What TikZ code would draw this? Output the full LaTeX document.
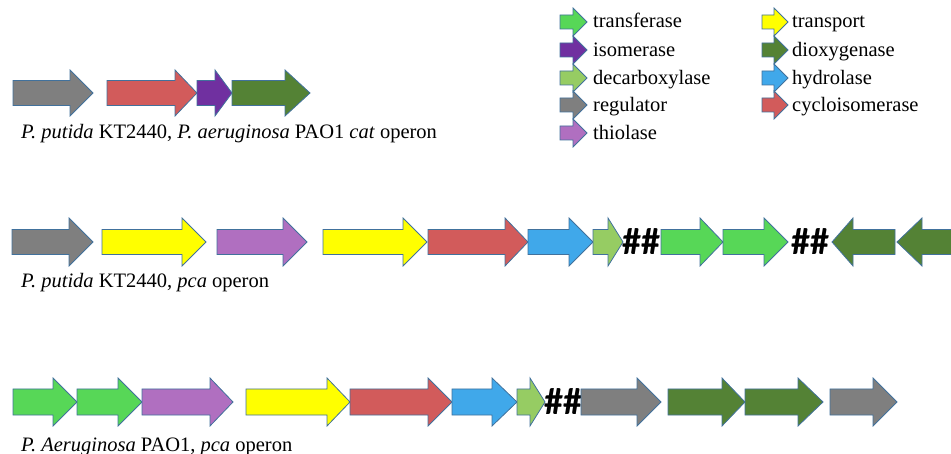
\documentclass[tikz,border=0pt]{standalone}
\usepackage{fontspec}
\setmainfont{Liberation Serif}
\newfontfamily\hashfont{Carlito}
\definecolor{cGray}{HTML}{7F7F7F}
\definecolor{cRed}{HTML}{D25B5B}
\definecolor{cIso}{HTML}{7030A0}
\definecolor{cDiox}{HTML}{548235}
\definecolor{cYel}{HTML}{FFFF00}
\definecolor{cThio}{HTML}{B06FC0}
\definecolor{cHyd}{HTML}{40A8EA}
\definecolor{cDec}{HTML}{96CC63}
\definecolor{cTra}{HTML}{57D757}
\definecolor{cEdge}{HTML}{41719C}
\tikzset{
  gene/.style={draw=cEdge, line width=0.8pt, line join=miter},
  lbl/.style={anchor=base west, inner sep=0pt, font=\fontsize{20.5}{24}\selectfont},
  hash/.style={inner sep=0pt, font=\hashfont\bfseries\fontsize{38}{38}\selectfont}
}
% #1 fill, #2 x left, #3 x tip, #4 y centre, #5 head length, #6 body half height, #7 head half height
\newcommand{\fwdgene}[7]{%
  \draw[gene, fill=#1] (#2,#4-#6) -- (#3-#5,#4-#6) -- (#3-#5,#4-#7) -- (#3,#4)
    -- (#3-#5,#4+#7) -- (#3-#5,#4+#6) -- (#2,#4+#6) -- cycle;}
% #1 fill, #2 x tip, #3 x right, #4 y centre, #5 head length, #6 body half, #7 head half
\newcommand{\revgene}[7]{%
  \draw[gene, fill=#1] (#3,#4-#6) -- (#2+#5,#4-#6) -- (#2+#5,#4-#7) -- (#2,#4)
    -- (#2+#5,#4+#7) -- (#2+#5,#4+#6) -- (#3,#4+#6) -- cycle;}
\begin{document}
\begin{tikzpicture}[x=1pt,y=-1pt]
\useasboundingbox (0,0) rectangle (951,454);
\clip (0,0) rectangle (951,454);
% ---- legend ----
\fwdgene{cTra}{560}{587}{22}{14}{7}{14}
\fwdgene{cIso}{560}{587}{50}{14}{7}{14}
\fwdgene{cDec}{560}{587}{78}{14}{7}{14}
\fwdgene{cGray}{560}{587}{105}{14}{7}{14}
\fwdgene{cThio}{560}{587}{133}{14}{7}{14}
\fwdgene{cYel}{762}{788}{22}{14}{7}{14}
\fwdgene{cDiox}{762}{788}{50}{14}{7}{14}
\fwdgene{cHyd}{762}{788}{78}{14}{7}{14}
\fwdgene{cRed}{762}{788}{105}{14}{7}{14}
\node[lbl] (lt1) at (593,28) {transferase};
\node[lbl] (lt2) at (593,57) {isomerase};
\node[lbl] (lt3) at (593,85) {decarboxylase};
\node[lbl] (lt4) at (593,112) {regulator};
\node[lbl] (lt5) at (593,140) {thiolase};
\node[lbl] (lt6) at (792,28) {transport};
\node[lbl] (lt7) at (792,57) {dioxygenase};
\node[lbl] (lt8) at (792,85) {hydrolase};
\node[lbl] (lt9) at (792,112) {cycloisomerase};
% ---- row 1: cat operon ----
\fwdgene{cGray}{13}{93}{93}{23}{12.5}{23}
\fwdgene{cRed}{107}{197}{93}{22}{12.5}{23}
\fwdgene{cIso}{197}{232}{93}{17}{12.5}{23}
\fwdgene{cDiox}{232}{310}{93}{25}{12.5}{23}
\node[lbl] (cap1) at (21,139) {\textit{P. putida} KT2440, \textit{P. aeruginosa} PAO1 \textit{cat} operon};
% ---- row 2: P. putida pca ----
\fwdgene{cGray}{12}{93}{242}{24}{12.5}{24}
\fwdgene{cYel}{102}{206}{242}{24}{12.5}{24}
\fwdgene{cThio}{217}{307}{242}{24}{12.5}{24}
\fwdgene{cYel}{323}{427}{242}{24}{12.5}{24}
\fwdgene{cRed}{428}{528}{242}{23}{12.5}{24}
\fwdgene{cHyd}{528}{593}{242}{24}{12.5}{24}
\fwdgene{cDec}{593}{623}{242}{15}{12.5}{24}
\node[hash] (h1) at (641,242) {\#\#};
\fwdgene{cTra}{661}{723}{242}{23}{12.5}{24}
\fwdgene{cTra}{723}{788}{242}{24}{12.5}{24}
\node[hash] (h2) at (810,242) {\#\#};
\revgene{cDiox}{832}{895}{242}{21}{12.5}{24}
\revgene{cDiox}{897}{965}{242}{25}{12.5}{24}
\node[lbl] (cap2) at (21,288) {\textit{P. putida} KT2440, \textit{pca} operon};
% ---- row 3: P. aeruginosa pca ----
\fwdgene{cTra}{13}{77}{402}{24}{13}{24}
\fwdgene{cTra}{77}{142}{402}{24}{13}{24}
\fwdgene{cThio}{142}{233}{402}{23}{13}{24}
\fwdgene{cYel}{246}{350}{402}{23}{13}{24}
\fwdgene{cRed}{350}{452}{402}{24}{13}{24}
\fwdgene{cHyd}{452}{517}{402}{25}{13}{24}
\fwdgene{cDec}{517}{545}{402}{15}{13}{24}
\node[hash] (h3) at (563,402) {\#\#};
\fwdgene{cGray}{581}{661}{402}{24}{13}{24}
\fwdgene{cDiox}{668}{745}{402}{23}{13}{24}
\fwdgene{cDiox}{745}{823}{402}{25}{13}{24}
\fwdgene{cGray}{830}{897}{402}{24}{13}{24}
\node[lbl] (cap3) at (21,451) {\textit{P. Aeruginosa} PAO1, \textit{pca} operon};
\end{tikzpicture}
\end{document}
